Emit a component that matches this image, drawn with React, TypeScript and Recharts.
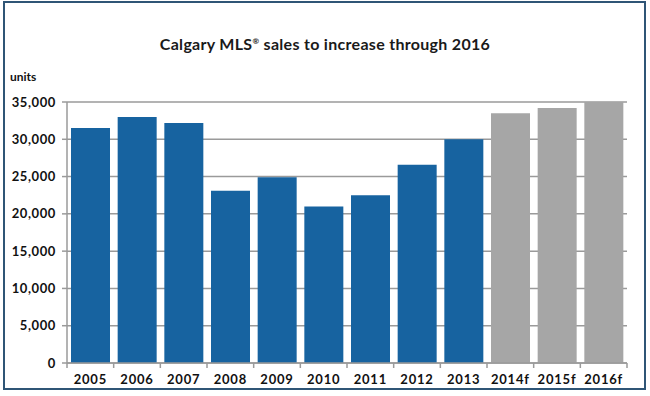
import { BarChart, Bar, XAxis, YAxis, CartesianGrid, Cell } from 'recharts'

const years = ['2005', '2006', '2007', '2008', '2009', '2010', '2011', '2012', '2013', '2014f', '2015f', '2016f']
const sales = [31500, 33000, 32200, 23100, 24900, 21000, 22500, 26600, 30000, 33500, 34200, 35000]
const yTicks = [0, 5000, 10000, 15000, 20000, 25000, 30000, 35000]

const ACTUAL = '#1763a0'
const FORECAST = '#a6a6a6'
const AXIS = '#9a9a9a'
const FONT = 'Lato, "Open Sans", sans-serif'

const data = years.map((year, i) => ({ year, sales: sales[i] }))

// category ticks sit on the band edges in the original, not the centres
function YearTick(props: any) {
  const { x, y, payload, index } = props
  const half = 560 / years.length / 2
  return (
    <g>
      <line x1={x - half} y1={y - 8} x2={x - half} y2={y - 3} stroke={AXIS} strokeWidth={1.5} />
      {index === years.length - 1 && (
        <line x1={x + half} y1={y - 8} x2={x + half} y2={y - 3} stroke={AXIS} strokeWidth={1.5} />
      )}
      <text x={x} y={y + 13} textAnchor="middle" fontFamily={FONT} fontWeight={700} fontSize={13} fill="#111" letterSpacing={0.8}>
        {payload.value}
      </text>
    </g>
  )
}

export default function App() {
  return (
    <div style={{ position: 'fixed', left: 0, top: 0, width: 650, height: 396, background: '#fff' }}>
      <div
        style={{
          position: 'absolute',
          left: 3,
          top: 1,
          width: 639,
          height: 385,
          border: '2px solid #2f5576',
        }}
      />
      <div
        style={{
          position: 'absolute',
          left: 0,
          width: 650,
          top: 34,
          textAlign: 'center',
          fontFamily: FONT,
          fontWeight: 700,
          fontSize: 16,
          letterSpacing: 0.3,
          color: '#1a1a1a',
        }}
      >
        Calgary MLS<sup style={{ fontSize: 8 }}>®</sup> sales to increase through 2016
      </div>
      <div
        style={{ position: 'absolute', left: 10, top: 69, fontFamily: FONT, fontWeight: 700, fontSize: 12, color: '#111' }}
      >
        units
      </div>
      <div style={{ position: 'absolute', left: 0, top: 0 }}>
        <BarChart width={650} height={396} data={data} margin={{ top: 102, right: 23, bottom: 6, left: 0 }} barCategoryGap={4}>
          <CartesianGrid vertical={false} stroke={AXIS} strokeWidth={1.5} />
          <XAxis
            dataKey="year"
            height={27}
            axisLine={{ stroke: AXIS, strokeWidth: 1.5 }}
            tickLine={false}
            interval={0}
            tick={<YearTick />}
          />
          <YAxis
            width={67}
            domain={[0, 35000]}
            ticks={yTicks}
            allowDataOverflow
            axisLine={{ stroke: AXIS, strokeWidth: 1.5 }}
            tickLine={{ stroke: AXIS, strokeWidth: 1.5 }}
            tickSize={5}
            tickMargin={6}
            tickFormatter={(v: number) => v.toLocaleString('en-US')}
            tick={{ fontFamily: FONT, fontWeight: 700, fontSize: 13, fill: '#111', letterSpacing: 0.6 }}
          />
          <Bar dataKey="sales" isAnimationActive={false}>
            {data.map((d) => (
              <Cell key={d.year} fill={d.year.endsWith('f') ? FORECAST : ACTUAL} />
            ))}
          </Bar>
        </BarChart>
      </div>
    </div>
  )
}
